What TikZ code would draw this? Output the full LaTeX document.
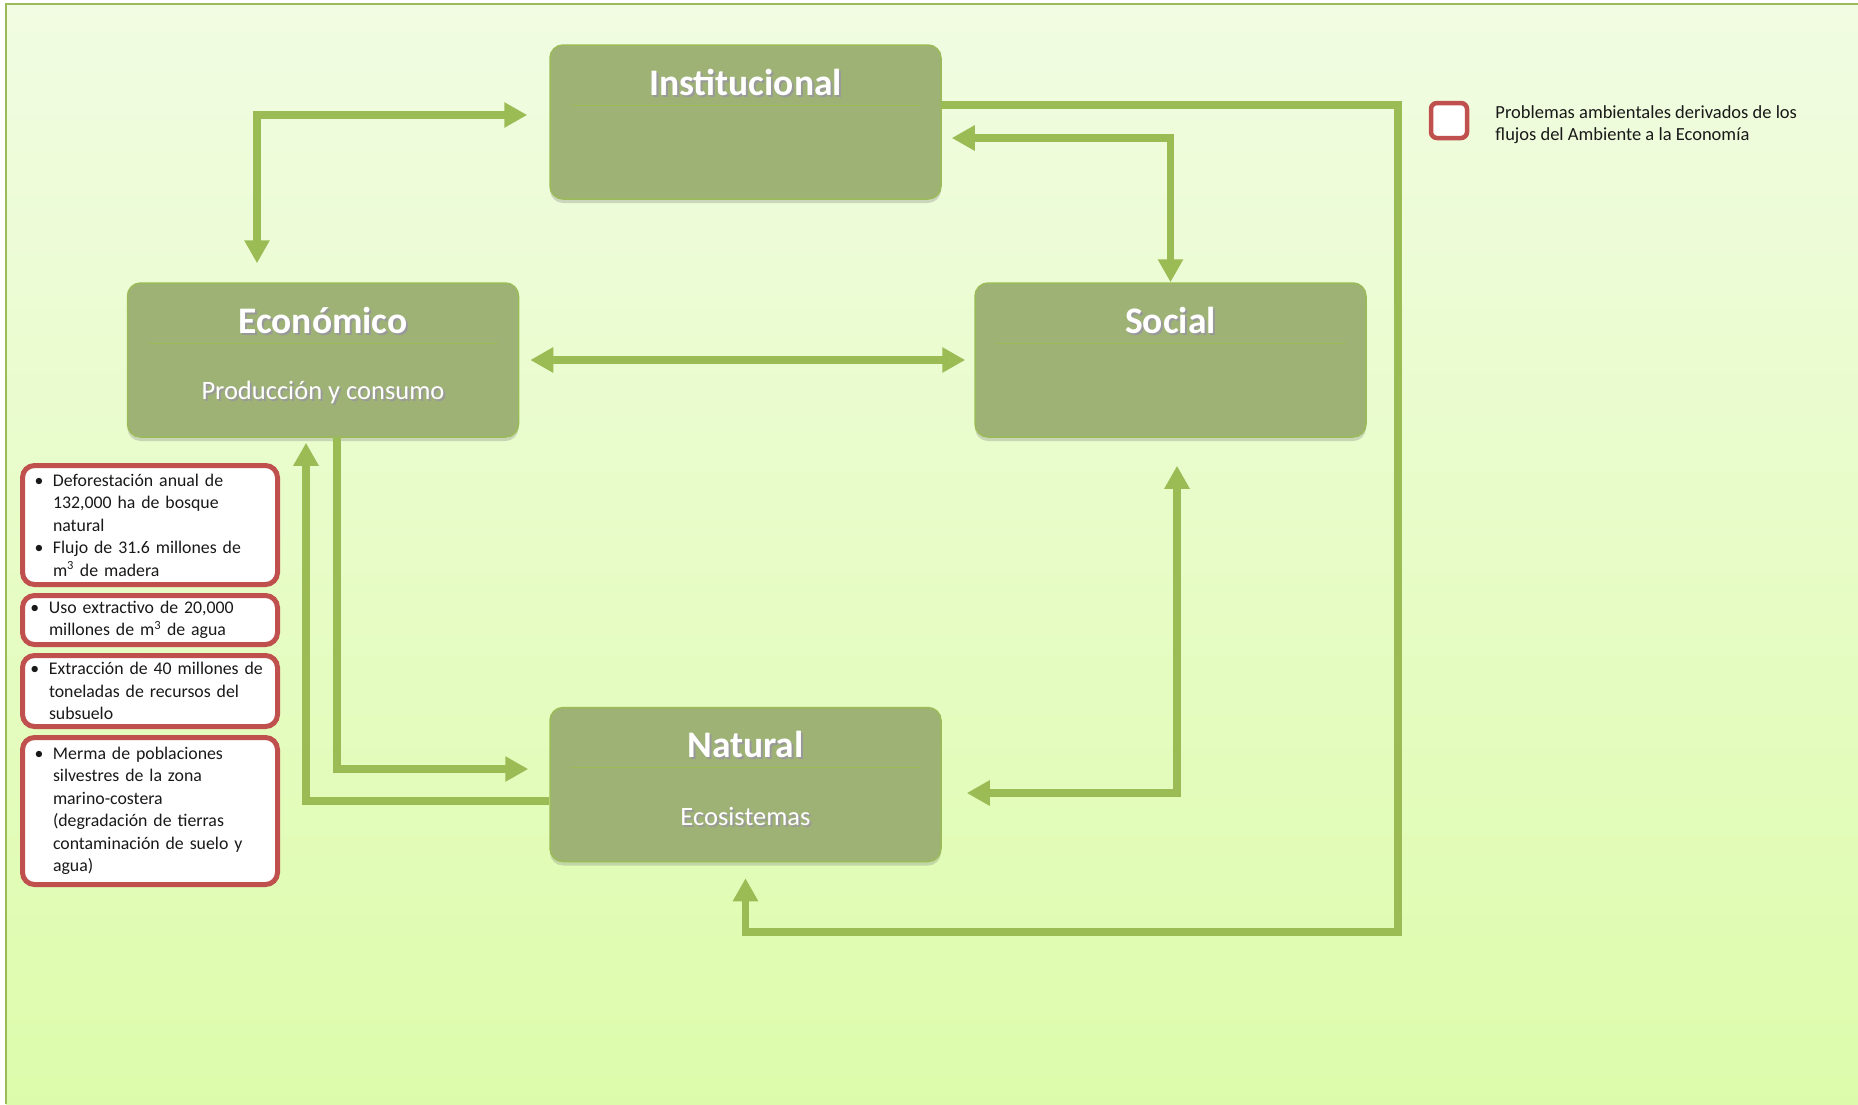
\documentclass[tikz,border=0pt]{standalone}
\usepackage{fontspec}
\setmainfont{Carlito}
\usepackage{tikz}
\usetikzlibrary{arrows.meta, shadows}

\definecolor{bgtop}{RGB}{241,252,226}
\definecolor{bgbot}{RGB}{221,252,171}
\definecolor{boxfill}{RGB}{158,178,118}
\definecolor{boxline}{RGB}{155,187,89}
\definecolor{flowgreen}{RGB}{155,187,85}
\definecolor{probred}{RGB}{192,80,77}

\newcommand{\shadowed}[1]{\leavevmode\rlap{\kern2pt\raisebox{-2pt}{\textcolor{black!40}{#1}}}#1}
\newcommand{\itm}{\makebox[18.5pt][l]{\textbullet}}
\newcommand{\cnt}{\hspace*{18.5pt}}

\tikzset{
    greenbox/.style={draw=boxline, line width=1.5pt, fill=boxfill, rounded corners=13pt,
        minimum width=391pt, minimum height=154pt,
        drop shadow={shadow xshift=0pt, shadow yshift=-4pt, opacity=0.3}},
    title/.style={text=white, font=\fontsize{37.5}{42}\selectfont\bfseries, inner sep=0pt},
    subtitle/.style={text=white, font=\fontsize{26.5}{30}\selectfont, inner sep=0pt},
    divider/.style={draw=flowgreen, line width=1.2pt},
    flow/.style={draw=flowgreen, line width=7.3pt},
    redbox/.style={draw=probred, line width=5pt, fill=white, rounded corners=12pt,
        minimum width=255pt, inner sep=0pt, text width=231pt, align=left,
        font=\fontsize{17.8}{22.5}\selectfont, text=black!90},
    legbox/.style={draw=probred, line width=4.5pt, fill=white, rounded corners=6pt,
        minimum width=36pt, minimum height=35pt, inner sep=0pt},
    legtext/.style={align=left, inner sep=0pt, font=\fontsize{18.5}{22}\selectfont, text=black!90},
    >={Triangle[length=23pt, width=24pt]}
}

\begin{document}
\begin{tikzpicture}[x=1pt, y=-1pt]
    \useasboundingbox (0,0) rectangle (1858,1104);
    \fill[white] (0,0) rectangle (1858,1104);
    \shade[top color=bgtop, bottom color=bgbot] (6,4) rectangle (1858,1104);
    \draw[boxline, line width=2pt] (6,1104) -- (6,4) -- (1858,4);

    \node[greenbox] (inst) at (745.5,122) {};
    \node[greenbox] (econ) at (323,360) {};
    \node[greenbox] (soc) at (1170.5,360) {};
    \node[greenbox] (nat) at (745.5,784.5) {};

    \node[title] (inst-title) at ([yshift=-39pt]inst.north) {\shadowed{Institucional}};
    \node[title] (econ-title) at ([yshift=-39pt]econ.north) {\shadowed{Económico}};
    \node[title] (soc-title) at ([yshift=-39pt]soc.north) {\shadowed{Social}};
    \node[title] (nat-title) at ([yshift=-39pt]nat.north) {\shadowed{Natural}};
    \draw[divider] ([xshift=22pt,yshift=-61pt]inst.north west) -- ([xshift=-22pt,yshift=-61pt]inst.north east);
    \draw[divider] ([xshift=22pt,yshift=-61pt]econ.north west) -- ([xshift=-22pt,yshift=-61pt]econ.north east);
    \draw[divider] ([xshift=22pt,yshift=-61pt]soc.north west) -- ([xshift=-22pt,yshift=-61pt]soc.north east);
    \draw[divider] ([xshift=22pt,yshift=-61pt]nat.north west) -- ([xshift=-22pt,yshift=-61pt]nat.north east);
    \node[subtitle] (econ-sub) at ([yshift=-111pt]econ.north) {\shadowed{Producción y consumo}};
    \node[subtitle] (nat-sub) at ([yshift=-111pt]nat.north) {\shadowed{Ecosistemas}};

    \coordinate (loop) at (1398,932);
    \draw[flow, <->] ([xshift=-66pt,yshift=19pt]econ.north) |- ([xshift=-22pt,yshift=7pt]inst.west);
    \draw[flow, ->] ([yshift=17pt]inst.east) -| (loop) -| ([yshift=-16pt]nat.south);
    \draw[flow, <->] ([xshift=10pt,yshift=-16pt]inst.east) -| (soc.north);
    \draw[flow, <->] ([xshift=11pt]econ.east) -- ([xshift=-9pt]soc.west);
    \draw[flow, ->] ([xshift=14pt]econ.south) |- ([xshift=-21pt,yshift=15.5pt]nat.west);
    \draw[flow, ->] ([yshift=-16.5pt]nat.west) -| ([xshift=-17pt,yshift=-5pt]econ.south);
    \draw[flow, <->] ([xshift=6.5pt,yshift=-28pt]soc.south) |- ([xshift=25pt,yshift=-8.5pt]nat.east);

    \node[redbox, minimum height=119pt] (forest) at (150,525)
        {\itm Deforestación anual de\\ \cnt 132,000 ha de bosque\\ \cnt natural\\
         \itm Flujo de 31.6 millones de\\ \cnt m\textsuperscript{3} de madera};
    \node[redbox, minimum height=49pt, text width=239pt] (water) at (150,620)
        {\itm Uso extractivo de 20,000\\ \cnt millones de m\textsuperscript{3} de agua};
    \node[redbox, minimum height=71pt, text width=239pt] (subsoil) at (150,691)
        {\itm Extracción de 40 millones de\\ \cnt toneladas de recursos del\\ \cnt subsuelo};
    \node[redbox, minimum height=147pt] (coast) at (150,811)
        {\itm Merma de poblaciones\\ \cnt silvestres de la zona\\ \cnt marino-costera\\
         \cnt (degradación de tierras\\ \cnt contaminación de suelo y\\ \cnt agua)};

    \node[legbox] (legend) at (1449,120.5) {};
    \node[legtext, anchor=west] (legend-text) at ([xshift=26pt,yshift=-4pt]legend.east)
        {Problemas ambientales derivados de los\\flujos del Ambiente a la Economía};
\end{tikzpicture}
\end{document}
